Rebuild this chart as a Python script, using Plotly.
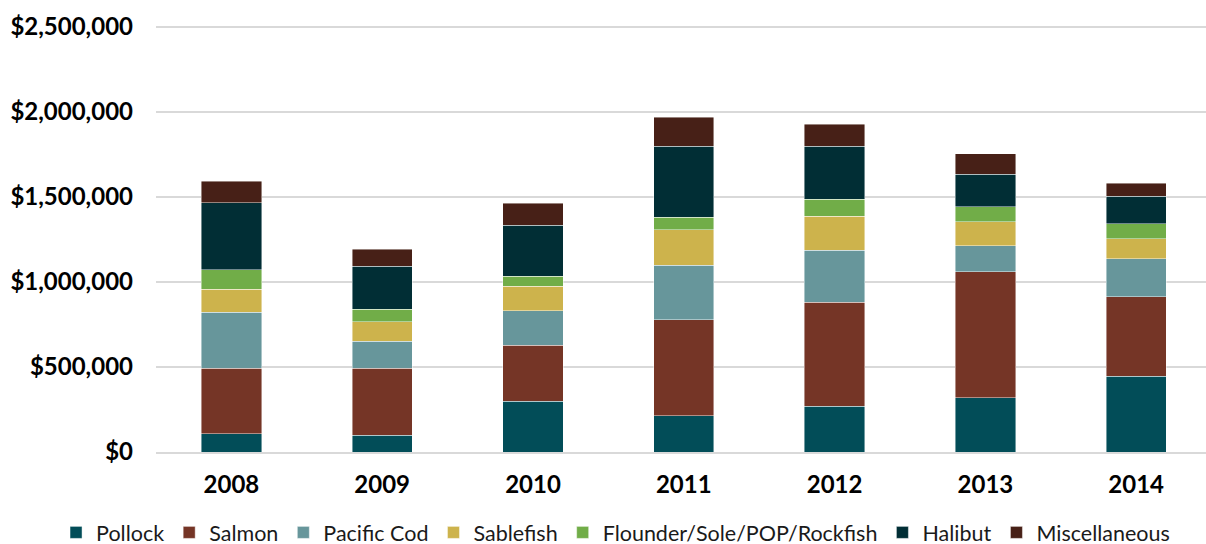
import plotly.graph_objects as go

years = ["2008", "2009", "2010", "2011", "2012", "2013", "2014"]
pollock = [108000, 98000, 300000, 212000, 269000, 318000, 447000]
salmon = [384000, 394000, 327000, 566000, 611000, 741000, 465000]
pacific_cod = [330000, 159000, 204000, 320000, 306000, 155000, 225000]
sablefish = [135000, 116000, 144000, 210000, 202000, 139000, 116000]
flounder = [114000, 72000, 60000, 74000, 100000, 90000, 90000]
halibut = [394000, 255000, 300000, 416000, 310000, 190000, 161000]
misc = [128000, 100000, 128000, 171000, 131000, 120000, 76000]

series = [
    ("Pollock", pollock, "#024D58"),
    ("Salmon", salmon, "#753526"),
    ("Pacific Cod", pacific_cod, "#67969B"),
    ("Sablefish", sablefish, "#CDB34C"),
    ("Flounder/Sole/POP/Rockfish", flounder, "#71AD48"),
    ("Halibut", halibut, "#012E35"),
    ("Miscellaneous", misc, "#472017"),
]

tick_vals = [0, 500000, 1000000, 1500000, 2000000, 2500000]
tick_text = ["$0", "$500,000", "$1,000,000", "$1,500,000", "$2,000,000", "$2,500,000"]

fig = go.Figure()
for name, vals, color in series:
    fig.add_trace(go.Bar(
        x=years, y=vals, name=name,
        marker=dict(color=color, line=dict(color="rgba(255,255,255,0.55)", width=0.8)),
    ))

font_family = "Lato, 'Open Sans', sans-serif"
fig.update_layout(
    barmode="stack",
    bargap=0.6,
    width=1206, height=544,
    margin=dict(l=156, r=0, t=24, b=92, autoexpand=False),
    plot_bgcolor="white",
    paper_bgcolor="white",
    font=dict(family=font_family, color="#000000"),
    legend=dict(
        orientation="h",
        x=-0.0952, xanchor="left",
        y=-0.140, yanchor="top",
        font=dict(size=21.5, color="#1a1a1a"),
        itemwidth=30,
        bgcolor="rgba(0,0,0,0)",
        traceorder="normal",
    ),
    xaxis=dict(
        range=[-0.5, 6.463],
        showline=True, linecolor="#d9d9d9", linewidth=1.5,
        ticks="", automargin=False,
        tickfont=dict(size=24, family=font_family, weight="bold"),
        ticklabelstandoff=10,
    ),
    yaxis=dict(
        range=[0, 2517647],
        tickvals=tick_vals, ticktext=tick_text,
        showgrid=True, gridcolor="#d9d9d9", gridwidth=1.5,
        zeroline=False, automargin=False,
        tickfont=dict(size=24, family=font_family, weight="bold"),
        ticks="", ticklabelstandoff=22,
    ),
)

fig.write_html(
    "out.html",
    config={"displayModeBar": False},
    post_script="document.body.style.margin='0';document.body.style.overflow='hidden';",
)
